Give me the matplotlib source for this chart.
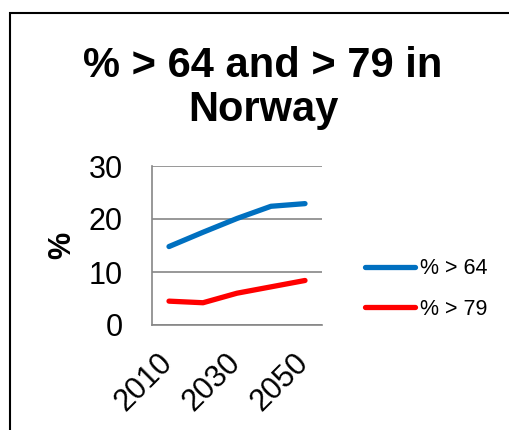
import matplotlib.pyplot as plt
import matplotlib.transforms as mtransforms
from matplotlib.patches import Rectangle

plt.rcParams['font.family'] = ['Liberation Sans', 'DejaVu Sans']

years = [2010, 2020, 2030, 2040, 2050]
over_64 = [14.8, 17.5, 20.1, 22.4, 22.9]
over_79 = [4.5, 4.2, 6.0, 7.2, 8.4]
series_labels = ['% > 64', '% > 79']
y_ticks = [0, 10, 20, 30]
x_tick_labels = ['2010', '2030', '2050']

fig = plt.figure(figsize=(5.1, 4.3), dpi=100)
# outer chart frame (cropped at right/bottom like the original)
fig.patches.append(Rectangle((10 / 510, -0.1), 1.2, 1 - 13 / 430 + 0.1,
                             transform=fig.transFigure, fill=False,
                             edgecolor='black', linewidth=1.5))

ax = fig.add_axes([152 / 510, 1 - 325 / 430, 170 / 510, 159 / 430])

x = list(range(len(years)))
ax.plot(x, over_64, color='#0070C0', linewidth=3.8, solid_capstyle='round',
        label=series_labels[0])
ax.plot(x, over_79, color='#FF0000', linewidth=3.8, solid_capstyle='round',
        label=series_labels[1])

ax.set_xlim(-0.5, len(years) - 0.5)
ax.set_ylim(0, 30)
ax.set_yticks(y_ticks)
ax.set_yticklabels([str(t) for t in y_ticks], fontsize=22)
ax.set_xticks([0, 2, 4])
ax.set_xticklabels(x_tick_labels, fontsize=22, rotation=45,
                   ha='center', va='center', rotation_mode='anchor')
ax.tick_params(axis='y', length=0, pad=21)
ax.tick_params(axis='x', length=0, pad=0)
# shift the rotated year labels down-left like Excel places them
offset = mtransforms.ScaledTranslation(-0.255, -0.575, fig.dpi_scale_trans)
for lbl in ax.get_xticklabels():
    lbl.set_transform(lbl.get_transform() + offset)

ax.grid(axis='y', color='#868686', linewidth=1.2)
ax.set_axisbelow(True)
for side in ['top', 'right']:
    ax.spines[side].set_visible(False)
for side in ['left', 'bottom']:
    ax.spines[side].set_color('#868686')
    ax.spines[side].set_linewidth(1.2)

ax.set_ylabel('%', fontsize=22, fontweight='bold', labelpad=8)

fig.text(263 / 510, 1 - 88 / 430, '% > 64 and > 79 in\nNorway', ha='center',
         va='center', fontsize=30, fontweight='bold', linespacing=1.13)

ax.legend(loc='center left', bbox_to_anchor=(365 / 510, 1 - 289 / 430),
          bbox_transform=fig.transFigure, frameon=False, fontsize=15.5,
          handlelength=2.3, handletextpad=0.25, labelspacing=0.9,
          borderpad=0, borderaxespad=0)

fig.savefig('out.png', dpi=100)
